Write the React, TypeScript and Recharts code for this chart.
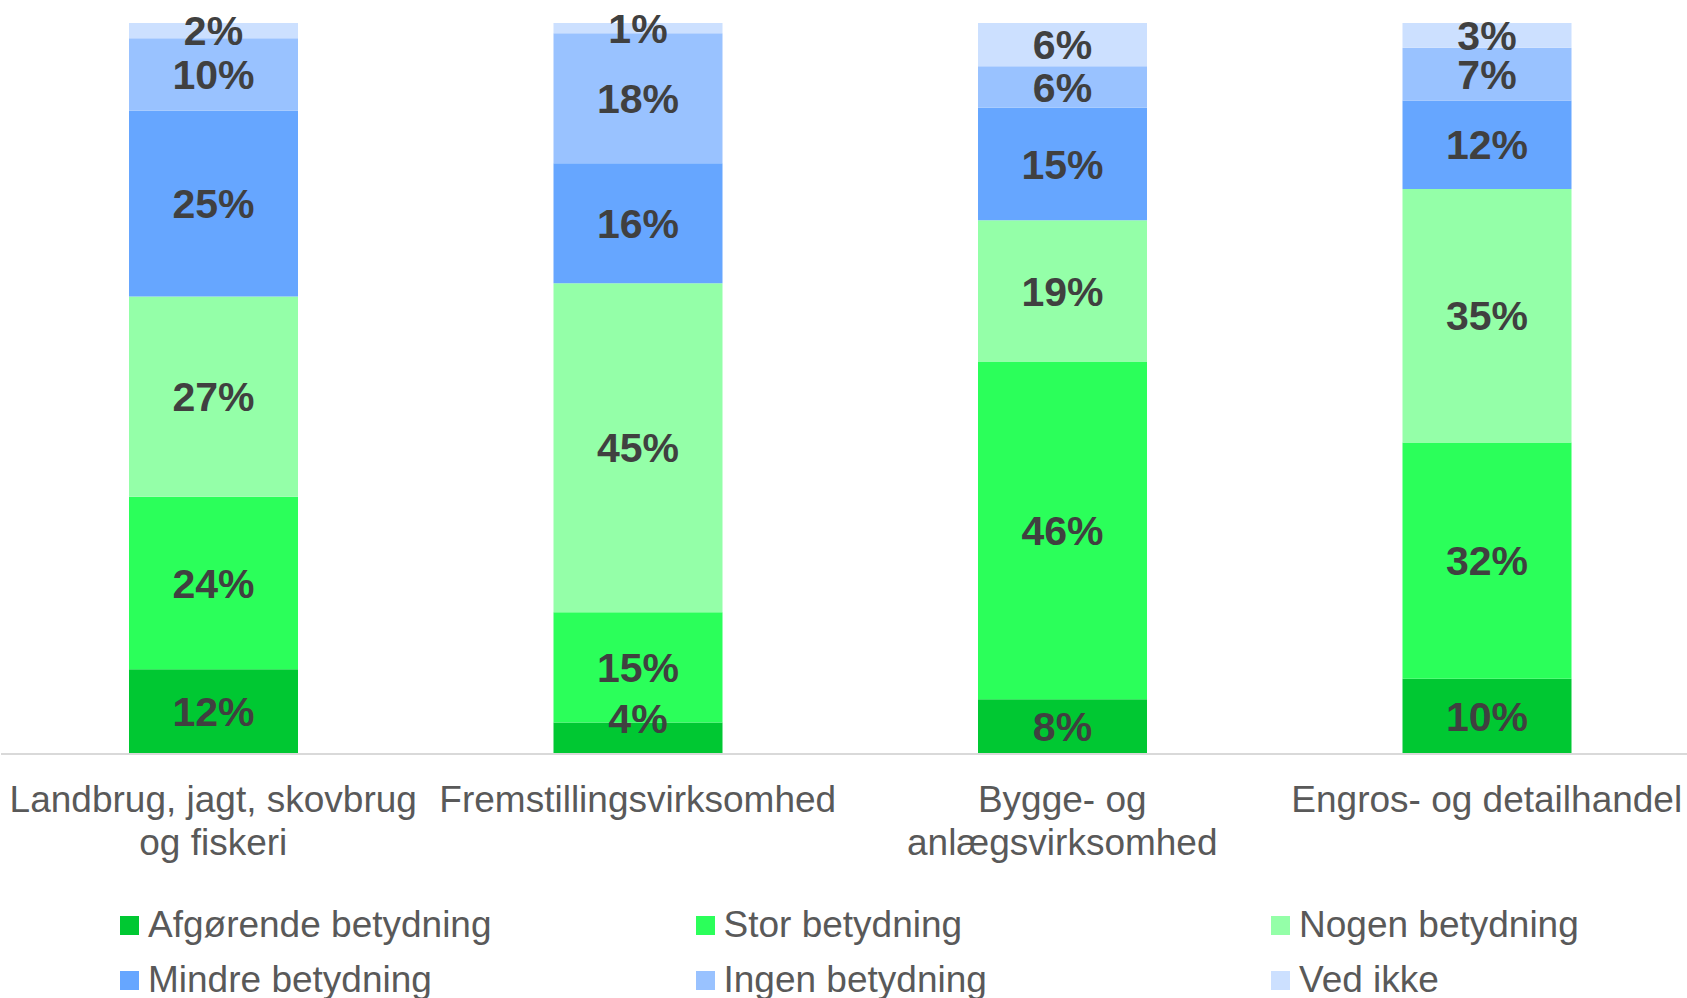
import React from 'react';
import { BarChart, Bar, XAxis, YAxis, LabelList } from 'recharts';

const categories = [
  'Landbrug, jagt, skovbrug\nog fiskeri',
  'Fremstillingsvirksomhed',
  'Bygge- og\nanlægsvirksomhed',
  'Engros- og detailhandel',
];

const seriesNames = [
  'Afgørende betydning',
  'Stor betydning',
  'Nogen betydning',
  'Mindre betydning',
  'Ingen betydning',
  'Ved ikke',
];

const afgoerende = [11.6, 4.3, 7.5, 10.3];
const stor = [23.6, 15.1, 46.2, 32.3];
const nogen = [27.4, 45.0, 19.3, 34.7];
const mindre = [25.4, 16.4, 15.4, 12.1];
const ingen = [9.9, 17.8, 5.7, 7.2];
const vedIkke = [2.1, 1.4, 5.9, 3.4];

const seriesValues = [afgoerende, stor, nogen, mindre, ingen, vedIkke];
const colors = ['#00C832', '#2BFF5A', '#94FFA8', '#66A6FF', '#99C2FF', '#CCE0FF'];
const keys = ['s0', 's1', 's2', 's3', 's4', 's5'];

const data = categories.map((name, i) => {
  const row: any = { name };
  seriesValues.forEach((vals, s) => {
    row[keys[s]] = vals[i];
  });
  return row;
});

const FONT = '"Liberation Sans", Arial, sans-serif';

const makeLabel = (seriesIndex: number) => (props: any) => {
  const { x, y, width, height, value } = props;
  const fs = 41;
  let cy = y + height / 2;
  if (seriesIndex === 0 && height < 40) cy = y + height - 36;
  return (
    <text
      x={x + width / 2}
      y={cy + 0.358 * fs}
      textAnchor="middle"
      fill="#404040"
      fontSize={fs}
      fontWeight="bold"
      fontFamily={FONT}
    >
      {Math.round(value) + '%'}
    </text>
  );
};

const Tick = (props: any) => {
  const { x, y, payload } = props;
  const lines = String(payload.value).split('\n');
  return (
    <text x={x} y={y} textAnchor="middle" fill="#595959" fontSize={37} fontFamily={FONT}>
      {lines.map((l, i) => (
        <tspan key={i} x={x} y={y + 58 + i * 43}>
          {l}
        </tspan>
      ))}
    </text>
  );
};

export default function App() {
  return (
    <div
      style={{
        position: 'absolute',
        left: 0,
        top: 0,
        width: 1687,
        height: 998,
        overflow: 'hidden',
        background: '#fff',
      }}
    >
      <BarChart
        width={1700}
        height={998}
        data={data}
        margin={{ top: 23, right: 1, left: 1, bottom: 0 }}
      >
        <XAxis
          dataKey="name"
          interval={0}
          height={244}
          tickSize={0}
          tickMargin={0}
          tickLine={false}
          axisLine={{ stroke: '#D9D9D9', strokeWidth: 2 }}
          tick={<Tick />}
        />
        <YAxis hide domain={[0, 100]} type="number" allowDataOverflow />
        {keys.map((k, s) => (
          <Bar
            key={k}
            dataKey={k}
            name={seriesNames[s]}
            stackId="a"
            fill={colors[s]}
            barSize={169}
            isAnimationActive={false}
          >
            <LabelList dataKey={k} content={makeLabel(s)} />
          </Bar>
        ))}
      </BarChart>
      {seriesNames.map((n, s) => {
        const col = s % 3;
        const row = Math.floor(s / 3);
        return (
          <div
            key={n}
            style={{
              position: 'absolute',
              left: 120 + col * 575.5,
              top: 925 + row * 55 - 22,
              height: 44,
              lineHeight: '44px',
              display: 'flex',
              alignItems: 'center',
              whiteSpace: 'nowrap',
              fontFamily: FONT,
              fontSize: 37,
              color: '#595959',
            }}
          >
            <div style={{ width: 19, height: 19, background: colors[s], marginRight: 9 }} />
            <span>{n}</span>
          </div>
        );
      })}
    </div>
  );
}
